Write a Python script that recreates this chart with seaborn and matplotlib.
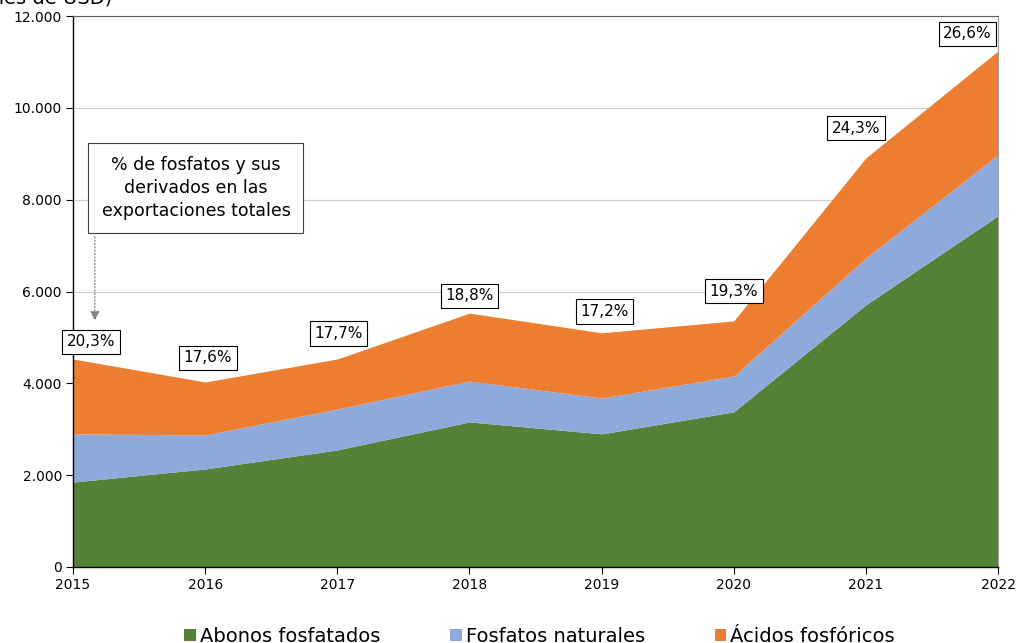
import matplotlib.pyplot as plt
import matplotlib.ticker as mticker
from matplotlib.patches import Patch
import seaborn as sns

anios = [2015, 2016, 2017, 2018, 2019, 2020, 2021, 2022]
abonos = [1850, 2135, 2550, 3160, 2900, 3380, 5710, 7650]
fosfatos = [1050, 740, 890, 890, 780, 780, 1020, 1330]
acidos = [1630, 1155, 1090, 1480, 1420, 1200, 2180, 2260]
porcentajes = ["20,3%", "17,6%", "17,7%", "18,8%", "17,2%", "19,3%", "24,3%", "26,6%"]
series = ["Abonos fosfatados", "Fosfatos naturales", "Ácidos fosfóricos"]

colores = ["#538135", "#8EA9DB", "#ED7D31"]

sns.set_theme(style="white")
plt.rcParams['font.family'] = ['DejaVu Sans']
plt.rcParams['text.color'] = 'black'
plt.rcParams['xtick.color'] = 'black'
plt.rcParams['ytick.color'] = 'black'

fig = plt.figure(figsize=(10.16, 6.43), dpi=100)
ax = fig.add_axes([0.0719, 0.1182, 0.9104, 0.8569])

ax.stackplot(anios, abonos, fosfatos, acidos, colors=colores, linewidth=0)

ax.set_xlim(2015, 2022)
ax.set_ylim(0, 12000)
ax.set_xticks(anios)
ax.yaxis.set_major_locator(mticker.MultipleLocator(2000))
ax.yaxis.set_major_formatter(mticker.FuncFormatter(lambda v, p: f"{v:,.0f}".replace(",", ".")))
ax.tick_params(axis="both", labelsize=10, length=5, width=0.8, color="black", direction="out",
               left=True, bottom=True, pad=3)
ax.grid(axis="y", color="#d0d0d0", linewidth=0.9)
ax.set_axisbelow(True)
for s in ["left", "bottom"]:
    ax.spines[s].set_color("black")
    ax.spines[s].set_linewidth(1.0)
ax.spines["top"].set_color("#606060")
ax.spines["top"].set_linewidth(0.8)
ax.spines["right"].set_color("#a0a0a0")
ax.spines["right"].set_linewidth(0.8)

# etiquetas de porcentaje
totales = [a + b + c for a, b, c in zip(abonos, fosfatos, acidos)]
offs_y = [7, 12, 13, 7, 10, 16, 16, 7]
offs_x = [13, 2, 1, 0, 2, 0, -7, -22]
for x, t, lab, dy, dx in zip(anios, totales, porcentajes, offs_y, offs_x):
    ax.annotate(lab, (x, t), xytext=(dx, dy), textcoords="offset points",
                ha="center", va="bottom", fontsize=11, zorder=5, annotation_clip=False,
                bbox=dict(boxstyle="square,pad=0.3", fc="white", ec="black", lw=0.8))

ax.text(2015.93, 8260, "% de fosfatos y sus\nderivados en las\nexportaciones totales",
        ha="center", va="center", fontsize=12.5, linespacing=1.35,
        bbox=dict(boxstyle="square,pad=0.75", fc="white", ec="#404040", lw=0.8))
ax.annotate("", xy=(2015.165, 5300), xytext=(2015.165, 7250),
            arrowprops=dict(arrowstyle="-|>", color="#808080", lw=0.9, ls=":",
                            mutation_scale=14))

fig.text(-0.06, 1.018, "(Millones de USD)", fontsize=14, ha="left", va="top")

handles = [Patch(facecolor=c, edgecolor="none") for c in colores]
fig.legend(handles, series, loc="lower center", bbox_to_anchor=(0.531, -0.032), ncol=3,
           frameon=False, fontsize=14, handlelength=0.6, handleheight=0.6,
           handletextpad=0.2, columnspacing=3.6)

fig.savefig("out.png", dpi=100)
